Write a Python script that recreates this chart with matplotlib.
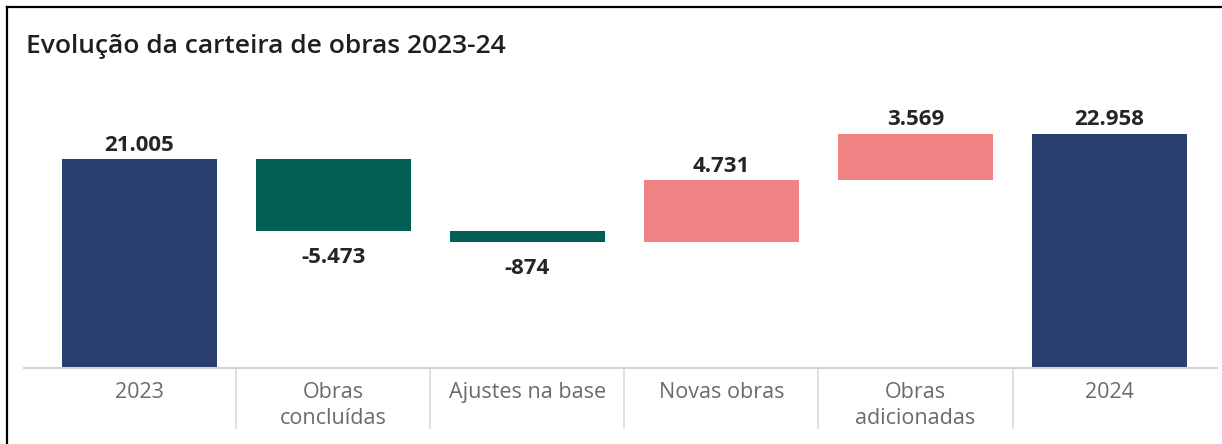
import matplotlib
matplotlib.use("Agg")
import matplotlib.pyplot as plt
from matplotlib.lines import Line2D
from matplotlib.transforms import blended_transform_factory

categories = ["2023", "Obras\nconcluídas", "Ajustes na base", "Novas obras", "Obras\nadicionadas", "2024"]
start_value = 21005
deltas = [-5473, -874, 4731, 3569]
end_value = 22958
labels = ["21.005", "-5.473", "-874", "4.731", "3.569", "22.958"]

NAVY = "#2A3E6D"
GREEN = "#035E56"
PINK = "#EF8282"

W, H = 1222, 444
fig = plt.figure(figsize=(W / 100, H / 100), dpi=100)
fig.patch.set_facecolor("white")

ymin, ymax = 5000, 25000
ax_bottom_px, ax_top_px = 368, 107
ax = fig.add_axes([24 / W, 1 - ax_bottom_px / H, (1217 - 24) / W, (ax_bottom_px - ax_top_px) / H])
ax.set_xlim(-0.595, 5.554)
ax.set_ylim(ymin, ymax)

# waterfall geometry
bottoms, heights, colors = [], [], []
bottoms.append(0); heights.append(start_value); colors.append(NAVY)
running = start_value
for d in deltas:
    if d < 0:
        bottoms.append(running + d); heights.append(-d); colors.append(GREEN)
    else:
        bottoms.append(running); heights.append(d); colors.append(PINK)
    running += d
bottoms.append(0); heights.append(end_value); colors.append(NAVY)

xs = list(range(len(categories)))
ax.bar(xs, heights, bottom=bottoms, width=0.8, color=colors, edgecolor="none", zorder=2)

signs = [1] + [1 if d > 0 else -1 for d in deltas] + [1]
for x, b, h, s, lab in zip(xs, bottoms, heights, signs, labels):
    if s > 0:
        ax.annotate(lab, (x, b + h), xytext=(0, 2.5), textcoords="offset points",
                    ha="center", va="bottom", fontsize=16, fontweight="bold",
                    color="#252525", family="Open Sans")
    else:
        ax.annotate(lab, (x, b), xytext=(0, -11.5), textcoords="offset points",
                    ha="center", va="top", fontsize=16, fontweight="bold",
                    color="#252525", family="Open Sans")

for s in ["top", "right", "left"]:
    ax.spines[s].set_visible(False)
ax.spines["bottom"].set_color("#d4d4d4")
ax.spines["bottom"].set_linewidth(1.5)
ax.set_yticks([])
ax.set_xticks(xs)
ax.set_xticklabels(categories, fontsize=15.5, color="#6b6b6b", family="Open Sans", linespacing=1.3)
ax.tick_params(axis="x", length=0, pad=10)

# category separators
tr = blended_transform_factory(ax.transData, ax.transAxes)
sep_len = 60 / (ax_bottom_px - ax_top_px)
for i in range(len(categories) - 1):
    ax.add_line(Line2D([i + 0.5, i + 0.5], [0, -sep_len], transform=tr, color="#d9d9d9",
                       lw=1.2, clip_on=False))

# title
fig.text(26 / W, 1 - 53 / H, "Evolução da carteira de obras 2023-24", fontsize=19,
         fontweight=600, color="#1f1f1f", family="Open Sans", va="baseline", ha="left")

# outer frame (left and top)
fig.add_artist(Line2D([7 / W, 7 / W], [0, 1 - 7 / H], transform=fig.transFigure, color="black", lw=1.6))
fig.add_artist(Line2D([7 / W, 1], [1 - 7 / H, 1 - 7 / H], transform=fig.transFigure, color="black", lw=1.6))

fig.savefig("out.png", dpi=100)
